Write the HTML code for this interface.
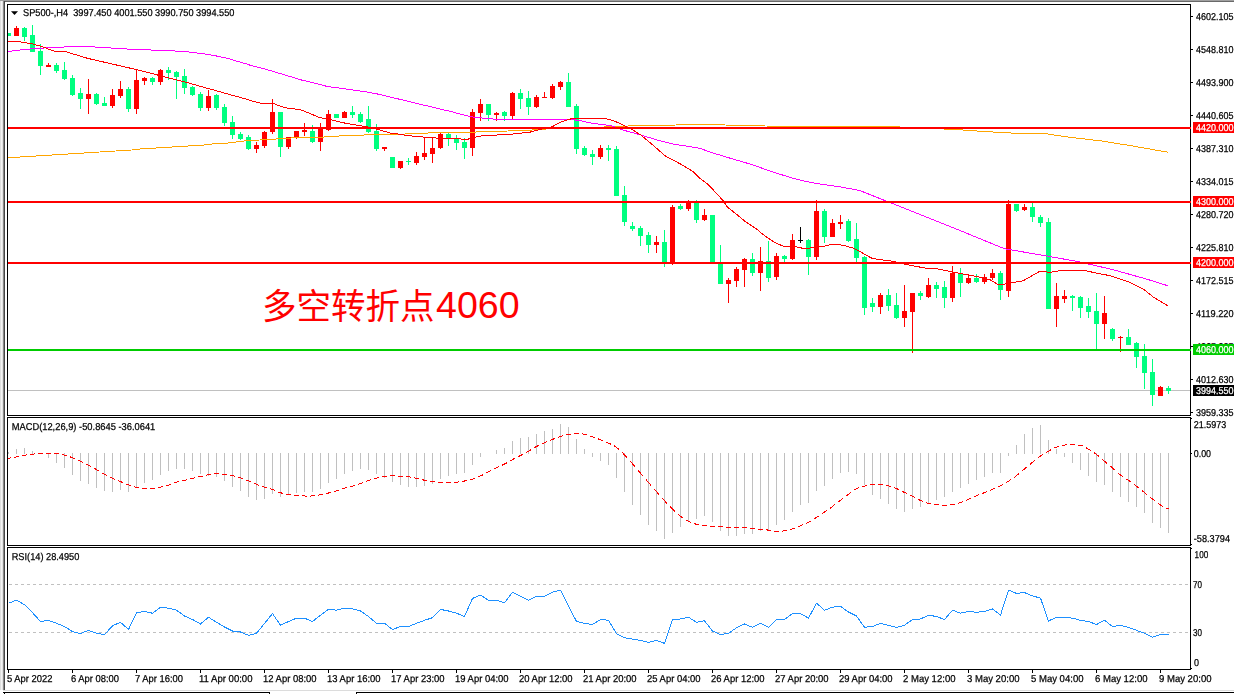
<!DOCTYPE html><html><head><meta charset="utf-8"><title>SP500 H4</title><style>
html,body{margin:0;padding:0;background:#fff;overflow:hidden}
svg{display:block}text{font-family:"Liberation Sans",sans-serif}
</style></head><body>
<svg width="1234" height="694" viewBox="0 0 1234 694">
<rect width="1234" height="694" fill="#fff"/>
<g shape-rendering="crispEdges">
<rect x="0" y="0" width="1234" height="1" fill="#a0a0a0"/>
<rect x="4" y="1" width="1230" height="1" fill="#696969"/>
<rect x="0" y="1" width="1" height="689" fill="#dedede"/>
<rect x="1" y="1" width="1" height="689" fill="#f4f4f4"/>
<rect x="2" y="1" width="1" height="689" fill="#e2e2e2"/>
<rect x="3" y="1" width="1" height="689" fill="#8a8a8a"/>
<rect x="4" y="1" width="1" height="689" fill="#484848"/>
<rect x="3" y="690" width="1231" height="1" fill="#dcdcdc"/>
<rect x="3" y="692" width="267" height="1" fill="#000"/>
<rect x="356" y="692" width="878" height="1" fill="#000"/>
<rect x="4" y="693" width="1" height="1" fill="#000"/><rect x="269" y="693" width="1" height="1" fill="#000"/><rect x="356" y="693" width="1" height="1" fill="#000"/>
</g>
<g shape-rendering="crispEdges">
<rect x="8" y="390" width="1182" height="1" fill="#c0c0c0"/>
<line x1="9" y1="584.5" x2="1190" y2="584.5" stroke="#c0c0c0" stroke-width="1" stroke-dasharray="3,3"/>
<line x1="9" y1="632.5" x2="1190" y2="632.5" stroke="#c0c0c0" stroke-width="1" stroke-dasharray="3,3"/>
<rect x="8" y="452" width="1" height="2" fill="#c0c0c0"/>
<rect x="16" y="449" width="1" height="5" fill="#c0c0c0"/>
<rect x="24" y="448" width="1" height="6" fill="#c0c0c0"/>
<rect x="32" y="451" width="1" height="3" fill="#c0c0c0"/>
<rect x="48" y="453" width="1" height="5" fill="#c0c0c0"/>
<rect x="56" y="453" width="1" height="10" fill="#c0c0c0"/>
<rect x="64" y="453" width="1" height="15" fill="#c0c0c0"/>
<rect x="72" y="453" width="1" height="22" fill="#c0c0c0"/>
<rect x="80" y="453" width="1" height="28" fill="#c0c0c0"/>
<rect x="88" y="453" width="1" height="31" fill="#c0c0c0"/>
<rect x="96" y="453" width="1" height="35" fill="#c0c0c0"/>
<rect x="104" y="453" width="1" height="38" fill="#c0c0c0"/>
<rect x="112" y="453" width="1" height="39" fill="#c0c0c0"/>
<rect x="120" y="453" width="1" height="37" fill="#c0c0c0"/>
<rect x="128" y="453" width="1" height="39" fill="#c0c0c0"/>
<rect x="136" y="453" width="1" height="34" fill="#c0c0c0"/>
<rect x="144" y="453" width="1" height="30" fill="#c0c0c0"/>
<rect x="152" y="453" width="1" height="27" fill="#c0c0c0"/>
<rect x="160" y="453" width="1" height="22" fill="#c0c0c0"/>
<rect x="168" y="453" width="1" height="18" fill="#c0c0c0"/>
<rect x="176" y="453" width="1" height="16" fill="#c0c0c0"/>
<rect x="184" y="453" width="1" height="16" fill="#c0c0c0"/>
<rect x="192" y="453" width="1" height="18" fill="#c0c0c0"/>
<rect x="200" y="453" width="1" height="21" fill="#c0c0c0"/>
<rect x="208" y="453" width="1" height="23" fill="#c0c0c0"/>
<rect x="216" y="453" width="1" height="24" fill="#c0c0c0"/>
<rect x="224" y="453" width="1" height="28" fill="#c0c0c0"/>
<rect x="232" y="453" width="1" height="34" fill="#c0c0c0"/>
<rect x="240" y="453" width="1" height="38" fill="#c0c0c0"/>
<rect x="248" y="453" width="1" height="44" fill="#c0c0c0"/>
<rect x="256" y="453" width="1" height="47" fill="#c0c0c0"/>
<rect x="264" y="453" width="1" height="46" fill="#c0c0c0"/>
<rect x="272" y="453" width="1" height="41" fill="#c0c0c0"/>
<rect x="280" y="453" width="1" height="44" fill="#c0c0c0"/>
<rect x="288" y="453" width="1" height="42" fill="#c0c0c0"/>
<rect x="296" y="453" width="1" height="40" fill="#c0c0c0"/>
<rect x="304" y="453" width="1" height="39" fill="#c0c0c0"/>
<rect x="312" y="453" width="1" height="39" fill="#c0c0c0"/>
<rect x="320" y="453" width="1" height="36" fill="#c0c0c0"/>
<rect x="328" y="453" width="1" height="30" fill="#c0c0c0"/>
<rect x="336" y="453" width="1" height="26" fill="#c0c0c0"/>
<rect x="344" y="453" width="1" height="21" fill="#c0c0c0"/>
<rect x="352" y="453" width="1" height="18" fill="#c0c0c0"/>
<rect x="360" y="453" width="1" height="16" fill="#c0c0c0"/>
<rect x="368" y="453" width="1" height="17" fill="#c0c0c0"/>
<rect x="376" y="453" width="1" height="21" fill="#c0c0c0"/>
<rect x="384" y="453" width="1" height="25" fill="#c0c0c0"/>
<rect x="392" y="453" width="1" height="29" fill="#c0c0c0"/>
<rect x="400" y="453" width="1" height="32" fill="#c0c0c0"/>
<rect x="408" y="453" width="1" height="34" fill="#c0c0c0"/>
<rect x="416" y="453" width="1" height="34" fill="#c0c0c0"/>
<rect x="424" y="453" width="1" height="33" fill="#c0c0c0"/>
<rect x="432" y="453" width="1" height="31" fill="#c0c0c0"/>
<rect x="440" y="453" width="1" height="26" fill="#c0c0c0"/>
<rect x="448" y="453" width="1" height="23" fill="#c0c0c0"/>
<rect x="456" y="453" width="1" height="21" fill="#c0c0c0"/>
<rect x="464" y="453" width="1" height="20" fill="#c0c0c0"/>
<rect x="472" y="453" width="1" height="12" fill="#c0c0c0"/>
<rect x="480" y="453" width="1" height="4" fill="#c0c0c0"/>
<rect x="496" y="450" width="1" height="4" fill="#c0c0c0"/>
<rect x="504" y="448" width="1" height="6" fill="#c0c0c0"/>
<rect x="512" y="441" width="1" height="13" fill="#c0c0c0"/>
<rect x="520" y="438" width="1" height="16" fill="#c0c0c0"/>
<rect x="528" y="437" width="1" height="17" fill="#c0c0c0"/>
<rect x="536" y="434" width="1" height="20" fill="#c0c0c0"/>
<rect x="544" y="431" width="1" height="23" fill="#c0c0c0"/>
<rect x="552" y="429" width="1" height="25" fill="#c0c0c0"/>
<rect x="560" y="424" width="1" height="30" fill="#c0c0c0"/>
<rect x="568" y="427" width="1" height="27" fill="#c0c0c0"/>
<rect x="576" y="439" width="1" height="15" fill="#c0c0c0"/>
<rect x="584" y="449" width="1" height="5" fill="#c0c0c0"/>
<rect x="592" y="453" width="1" height="4" fill="#c0c0c0"/>
<rect x="600" y="453" width="1" height="8" fill="#c0c0c0"/>
<rect x="608" y="453" width="1" height="12" fill="#c0c0c0"/>
<rect x="616" y="453" width="1" height="25" fill="#c0c0c0"/>
<rect x="624" y="453" width="1" height="39" fill="#c0c0c0"/>
<rect x="632" y="453" width="1" height="52" fill="#c0c0c0"/>
<rect x="640" y="453" width="1" height="62" fill="#c0c0c0"/>
<rect x="648" y="453" width="1" height="72" fill="#c0c0c0"/>
<rect x="656" y="453" width="1" height="78" fill="#c0c0c0"/>
<rect x="664" y="453" width="1" height="86" fill="#c0c0c0"/>
<rect x="672" y="453" width="1" height="80" fill="#c0c0c0"/>
<rect x="680" y="453" width="1" height="74" fill="#c0c0c0"/>
<rect x="688" y="453" width="1" height="69" fill="#c0c0c0"/>
<rect x="696" y="453" width="1" height="66" fill="#c0c0c0"/>
<rect x="704" y="453" width="1" height="63" fill="#c0c0c0"/>
<rect x="712" y="453" width="1" height="69" fill="#c0c0c0"/>
<rect x="720" y="453" width="1" height="78" fill="#c0c0c0"/>
<rect x="728" y="453" width="1" height="83" fill="#c0c0c0"/>
<rect x="736" y="453" width="1" height="83" fill="#c0c0c0"/>
<rect x="744" y="453" width="1" height="81" fill="#c0c0c0"/>
<rect x="752" y="453" width="1" height="81" fill="#c0c0c0"/>
<rect x="760" y="453" width="1" height="78" fill="#c0c0c0"/>
<rect x="768" y="453" width="1" height="78" fill="#c0c0c0"/>
<rect x="776" y="453" width="1" height="72" fill="#c0c0c0"/>
<rect x="784" y="453" width="1" height="67" fill="#c0c0c0"/>
<rect x="792" y="453" width="1" height="59" fill="#c0c0c0"/>
<rect x="800" y="453" width="1" height="52" fill="#c0c0c0"/>
<rect x="808" y="453" width="1" height="50" fill="#c0c0c0"/>
<rect x="816" y="453" width="1" height="38" fill="#c0c0c0"/>
<rect x="824" y="453" width="1" height="33" fill="#c0c0c0"/>
<rect x="832" y="453" width="1" height="26" fill="#c0c0c0"/>
<rect x="840" y="453" width="1" height="20" fill="#c0c0c0"/>
<rect x="848" y="453" width="1" height="19" fill="#c0c0c0"/>
<rect x="856" y="453" width="1" height="21" fill="#c0c0c0"/>
<rect x="864" y="453" width="1" height="32" fill="#c0c0c0"/>
<rect x="872" y="453" width="1" height="42" fill="#c0c0c0"/>
<rect x="880" y="453" width="1" height="46" fill="#c0c0c0"/>
<rect x="888" y="453" width="1" height="51" fill="#c0c0c0"/>
<rect x="896" y="453" width="1" height="56" fill="#c0c0c0"/>
<rect x="904" y="453" width="1" height="59" fill="#c0c0c0"/>
<rect x="912" y="453" width="1" height="56" fill="#c0c0c0"/>
<rect x="920" y="453" width="1" height="54" fill="#c0c0c0"/>
<rect x="928" y="453" width="1" height="50" fill="#c0c0c0"/>
<rect x="936" y="453" width="1" height="47" fill="#c0c0c0"/>
<rect x="944" y="453" width="1" height="44" fill="#c0c0c0"/>
<rect x="952" y="453" width="1" height="39" fill="#c0c0c0"/>
<rect x="960" y="453" width="1" height="35" fill="#c0c0c0"/>
<rect x="968" y="453" width="1" height="31" fill="#c0c0c0"/>
<rect x="976" y="453" width="1" height="27" fill="#c0c0c0"/>
<rect x="984" y="453" width="1" height="24" fill="#c0c0c0"/>
<rect x="992" y="453" width="1" height="20" fill="#c0c0c0"/>
<rect x="1000" y="453" width="1" height="20" fill="#c0c0c0"/>
<rect x="1008" y="453" width="1" height="3" fill="#c0c0c0"/>
<rect x="1016" y="445" width="1" height="9" fill="#c0c0c0"/>
<rect x="1024" y="434" width="1" height="20" fill="#c0c0c0"/>
<rect x="1032" y="428" width="1" height="26" fill="#c0c0c0"/>
<rect x="1040" y="425" width="1" height="29" fill="#c0c0c0"/>
<rect x="1048" y="440" width="1" height="14" fill="#c0c0c0"/>
<rect x="1056" y="449" width="1" height="5" fill="#c0c0c0"/>
<rect x="1064" y="453" width="1" height="4" fill="#c0c0c0"/>
<rect x="1072" y="453" width="1" height="10" fill="#c0c0c0"/>
<rect x="1080" y="453" width="1" height="17" fill="#c0c0c0"/>
<rect x="1088" y="453" width="1" height="23" fill="#c0c0c0"/>
<rect x="1096" y="453" width="1" height="29" fill="#c0c0c0"/>
<rect x="1104" y="453" width="1" height="32" fill="#c0c0c0"/>
<rect x="1112" y="453" width="1" height="39" fill="#c0c0c0"/>
<rect x="1120" y="453" width="1" height="44" fill="#c0c0c0"/>
<rect x="1128" y="453" width="1" height="49" fill="#c0c0c0"/>
<rect x="1136" y="453" width="1" height="54" fill="#c0c0c0"/>
<rect x="1144" y="453" width="1" height="60" fill="#c0c0c0"/>
<rect x="1152" y="453" width="1" height="70" fill="#c0c0c0"/>
<rect x="1160" y="453" width="1" height="75" fill="#c0c0c0"/>
<rect x="1168" y="453" width="1" height="80" fill="#c0c0c0"/>
</g>
<g stroke="#ff0000" stroke-width="1" shape-rendering="crispEdges">
<line x1="8" y1="458.4" x2="11" y2="457.9"/>
<line x1="14" y1="457.5" x2="19" y2="456.4"/>
<line x1="22" y1="455.7" x2="27" y2="454.9"/>
<line x1="30" y1="454.5" x2="35" y2="453.9"/>
<line x1="38" y1="453.6" x2="43" y2="453.4"/>
<line x1="46" y1="453.4" x2="51" y2="453.4"/>
<line x1="54" y1="453.4" x2="59" y2="453.7"/>
<line x1="62" y1="454.4" x2="67" y2="455.8"/>
<line x1="70" y1="456.8" x2="75" y2="458.6"/>
<line x1="78" y1="459.9" x2="83" y2="462.4"/>
<line x1="86" y1="464.1" x2="91" y2="466.7"/>
<line x1="94" y1="468.2" x2="99" y2="471.1"/>
<line x1="102" y1="472.8" x2="107" y2="475.6"/>
<line x1="110" y1="477.2" x2="115" y2="479.5"/>
<line x1="118" y1="480.6" x2="123" y2="482.6"/>
<line x1="126" y1="483.9" x2="131" y2="485.8"/>
<line x1="134" y1="486.8" x2="139" y2="488.0"/>
<line x1="142" y1="488.3" x2="147" y2="488.5"/>
<line x1="150" y1="488.4" x2="155" y2="488.0"/>
<line x1="158" y1="487.6" x2="163" y2="486.7"/>
<line x1="166" y1="485.9" x2="171" y2="484.2"/>
<line x1="174" y1="482.9" x2="179" y2="481.5"/>
<line x1="182" y1="480.9" x2="187" y2="479.7"/>
<line x1="190" y1="478.9" x2="195" y2="477.7"/>
<line x1="198" y1="477.1" x2="203" y2="476.0"/>
<line x1="206" y1="475.2" x2="211" y2="474.2"/>
<line x1="214" y1="473.8" x2="219" y2="473.9"/>
<line x1="222" y1="474.3" x2="227" y2="474.8"/>
<line x1="230" y1="475.1" x2="235" y2="476.2"/>
<line x1="238" y1="477.1" x2="243" y2="478.8"/>
<line x1="246" y1="479.9" x2="251" y2="481.8"/>
<line x1="254" y1="483.1" x2="259" y2="485.3"/>
<line x1="262" y1="486.5" x2="267" y2="488.0"/>
<line x1="270" y1="488.6" x2="275" y2="490.3"/>
<line x1="278" y1="491.9" x2="283" y2="493.5"/>
<line x1="286" y1="494.0" x2="291" y2="494.8"/>
<line x1="294" y1="495.1" x2="299" y2="495.6"/>
<line x1="302" y1="495.8" x2="307" y2="496.1"/>
<line x1="310" y1="496.1" x2="315" y2="495.7"/>
<line x1="318" y1="495.2" x2="323" y2="494.2"/>
<line x1="326" y1="493.6" x2="331" y2="492.4"/>
<line x1="334" y1="491.7" x2="339" y2="490.1"/>
<line x1="342" y1="489.0" x2="347" y2="487.4"/>
<line x1="350" y1="486.7" x2="355" y2="485.4"/>
<line x1="358" y1="484.4" x2="363" y2="482.6"/>
<line x1="366" y1="481.5" x2="371" y2="479.7"/>
<line x1="374" y1="478.8" x2="379" y2="477.6"/>
<line x1="382" y1="476.9" x2="387" y2="476.1"/>
<line x1="390" y1="475.6" x2="395" y2="475.8"/>
<line x1="398" y1="476.2" x2="403" y2="476.5"/>
<line x1="406" y1="476.5" x2="411" y2="477.1"/>
<line x1="414" y1="477.7" x2="419" y2="478.9"/>
<line x1="422" y1="479.7" x2="427" y2="480.7"/>
<line x1="430" y1="481.3" x2="435" y2="481.8"/>
<line x1="438" y1="482.1" x2="443" y2="482.6"/>
<line x1="446" y1="483.0" x2="451" y2="482.9"/>
<line x1="454" y1="482.5" x2="459" y2="481.9"/>
<line x1="462" y1="481.5" x2="467" y2="480.5"/>
<line x1="470" y1="479.8" x2="475" y2="478.3"/>
<line x1="478" y1="477.1" x2="483" y2="474.8"/>
<line x1="486" y1="473.2" x2="491" y2="470.6"/>
<line x1="494" y1="468.9" x2="499" y2="466.4"/>
<line x1="502" y1="465.2" x2="507" y2="462.7"/>
<line x1="510" y1="461.0" x2="515" y2="458.2"/>
<line x1="518" y1="456.7" x2="523" y2="454.2"/>
<line x1="526" y1="452.7" x2="531" y2="449.8"/>
<line x1="534" y1="447.8" x2="539" y2="445.2"/>
<line x1="542" y1="443.9" x2="547" y2="441.7"/>
<line x1="550" y1="440.4" x2="555" y2="438.4"/>
<line x1="558" y1="437.4" x2="563" y2="435.8"/>
<line x1="566" y1="435.0" x2="571" y2="434.0"/>
<line x1="574" y1="433.6" x2="579" y2="433.6"/>
<line x1="582" y1="433.9" x2="587" y2="434.9"/>
<line x1="590" y1="435.9" x2="595" y2="437.7"/>
<line x1="598" y1="438.8" x2="603" y2="440.8"/>
<line x1="606" y1="442.1" x2="611" y2="444.2"/>
<line x1="614" y1="445.5" x2="619" y2="449.5"/>
<line x1="622" y1="452.2" x2="627" y2="457.5"/>
<line x1="630" y1="460.9" x2="635" y2="466.7"/>
<line x1="638" y1="470.2" x2="643" y2="476.1"/>
<line x1="646" y1="479.6" x2="651" y2="485.3"/>
<line x1="654" y1="488.8" x2="659" y2="494.5"/>
<line x1="662" y1="498.1" x2="667" y2="503.4"/>
<line x1="670" y1="506.3" x2="675" y2="511.3"/>
<line x1="678" y1="514.3" x2="683" y2="518.2"/>
<line x1="686" y1="519.9" x2="691" y2="522.3"/>
<line x1="694" y1="523.6" x2="699" y2="524.9"/>
<line x1="702" y1="525.3" x2="707" y2="525.9"/>
<line x1="710" y1="526.1" x2="715" y2="526.5"/>
<line x1="718" y1="526.7" x2="723" y2="527.0"/>
<line x1="726" y1="527.3" x2="731" y2="527.5"/>
<line x1="734" y1="527.5" x2="739" y2="527.5"/>
<line x1="742" y1="527.5" x2="747" y2="527.8"/>
<line x1="750" y1="528.2" x2="755" y2="528.8"/>
<line x1="758" y1="529.0" x2="763" y2="529.5"/>
<line x1="766" y1="529.8" x2="771" y2="530.5"/>
<line x1="774" y1="531.0" x2="779" y2="531.2"/>
<line x1="782" y1="531.1" x2="787" y2="530.5"/>
<line x1="790" y1="529.8" x2="795" y2="528.1"/>
<line x1="798" y1="526.8" x2="803" y2="524.6"/>
<line x1="806" y1="523.4" x2="811" y2="520.9"/>
<line x1="814" y1="519.1" x2="819" y2="515.8"/>
<line x1="822" y1="513.7" x2="827" y2="510.3"/>
<line x1="830" y1="508.3" x2="835" y2="504.5"/>
<line x1="838" y1="502.1" x2="843" y2="498.2"/>
<line x1="846" y1="496.1" x2="851" y2="492.3"/>
<line x1="854" y1="490.1" x2="859" y2="487.5"/>
<line x1="862" y1="486.6" x2="867" y2="485.6"/>
<line x1="870" y1="485.0" x2="875" y2="484.6"/>
<line x1="878" y1="484.6" x2="883" y2="485.0"/>
<line x1="886" y1="485.4" x2="891" y2="486.5"/>
<line x1="894" y1="487.5" x2="899" y2="489.7"/>
<line x1="902" y1="491.3" x2="907" y2="493.5"/>
<line x1="910" y1="494.8" x2="915" y2="497.5"/>
<line x1="918" y1="499.3" x2="923" y2="501.6"/>
<line x1="926" y1="502.8" x2="931" y2="503.9"/>
<line x1="934" y1="504.3" x2="939" y2="504.9"/>
<line x1="942" y1="505.1" x2="947" y2="505.2"/>
<line x1="950" y1="505.0" x2="955" y2="504.1"/>
<line x1="958" y1="503.2" x2="963" y2="501.6"/>
<line x1="966" y1="500.4" x2="971" y2="498.1"/>
<line x1="974" y1="496.7" x2="979" y2="494.6"/>
<line x1="982" y1="493.6" x2="987" y2="491.7"/>
<line x1="990" y1="490.4" x2="995" y2="488.2"/>
<line x1="998" y1="486.9" x2="1003" y2="484.4"/>
<line x1="1006" y1="482.7" x2="1011" y2="479.6"/>
<line x1="1014" y1="477.6" x2="1019" y2="473.6"/>
<line x1="1022" y1="471.0" x2="1027" y2="466.8"/>
<line x1="1030" y1="464.4" x2="1035" y2="460.1"/>
<line x1="1038" y1="457.6" x2="1043" y2="454.4"/>
<line x1="1046" y1="452.7" x2="1051" y2="449.8"/>
<line x1="1054" y1="448.1" x2="1059" y2="446.2"/>
<line x1="1062" y1="445.4" x2="1067" y2="444.8"/>
<line x1="1070" y1="444.6" x2="1075" y2="444.6"/>
<line x1="1078" y1="444.9" x2="1083" y2="446.1"/>
<line x1="1086" y1="447.7" x2="1091" y2="450.6"/>
<line x1="1094" y1="452.6" x2="1099" y2="456.5"/>
<line x1="1102" y1="459.1" x2="1107" y2="463.3"/>
<line x1="1110" y1="465.8" x2="1115" y2="470.2"/>
<line x1="1118" y1="473.0" x2="1123" y2="477.0"/>
<line x1="1126" y1="478.8" x2="1131" y2="482.0"/>
<line x1="1134" y1="484.2" x2="1139" y2="488.1"/>
<line x1="1142" y1="490.5" x2="1147" y2="494.6"/>
<line x1="1150" y1="497.0" x2="1155" y2="501.0"/>
<line x1="1158" y1="503.4" x2="1163" y2="506.6"/>
<line x1="1166" y1="507.9" x2="1169" y2="508.7"/>
</g>
<polyline points="8.5,603.2 16.5,600.2 24.5,604.7 32.5,612.7 40.5,621.5 48.5,620.3 56.5,623.3 64.5,626.5 72.5,631.6 80.5,633.6 88.5,630.3 96.5,633.3 104.5,634.6 112.5,625.8 120.5,622.3 128.5,629.5 136.5,612.7 144.5,611.5 152.5,613.2 160.5,607.2 168.5,608.2 176.5,610.2 184.5,616.0 192.5,619.5 200.5,624.0 208.5,617.2 216.5,622.3 224.5,627.0 232.5,631.0 240.5,632.0 248.5,635.3 256.5,633.3 264.5,623.5 272.5,613.5 280.5,625.3 288.5,621.5 296.5,618.2 304.5,618.2 312.5,621.5 320.5,615.2 328.5,609.4 336.5,610.2 344.5,608.2 352.5,608.9 360.5,611.0 368.5,616.5 376.5,623.3 384.5,623.3 392.5,629.5 400.5,626.5 408.5,626.5 416.5,623.3 424.5,620.3 432.5,617.7 440.5,609.4 448.5,611.0 456.5,613.2 464.5,616.5 472.5,598.4 480.5,595.1 488.5,600.2 496.5,600.2 504.5,602.7 512.5,592.1 520.5,596.4 528.5,600.2 536.5,596.4 544.5,596.4 552.5,592.1 560.5,590.1 568.5,605.9 576.5,621.5 584.5,623.3 592.5,624.5 600.5,619.5 608.5,620.3 616.5,633.6 624.5,637.8 632.5,639.1 640.5,640.4 648.5,642.4 656.5,640.4 664.5,643.4 672.5,619.5 680.5,619.0 688.5,617.2 696.5,622.3 704.5,620.8 712.5,631.0 720.5,634.6 728.5,633.3 736.5,627.8 744.5,624.0 752.5,627.3 760.5,623.3 768.5,627.3 776.5,619.5 784.5,619.5 792.5,613.5 800.5,613.5 808.5,618.2 816.5,603.2 824.5,610.2 832.5,607.2 840.5,606.4 848.5,612.0 856.5,616.0 864.5,627.3 872.5,626.5 880.5,623.3 888.5,625.3 896.5,627.3 904.5,625.3 912.5,619.5 920.5,619.0 928.5,615.2 936.5,616.5 944.5,619.5 952.5,610.2 960.5,613.2 968.5,611.5 976.5,612.2 984.5,611.5 992.5,608.9 1000.5,615.2 1008.5,590.1 1016.5,593.4 1024.5,592.6 1032.5,595.9 1040.5,598.1 1048.5,621.0 1056.5,617.2 1064.5,617.2 1072.5,618.2 1080.5,620.3 1088.5,621.5 1096.5,624.5 1104.5,620.3 1112.5,626.5 1120.5,625.3 1128.5,627.3 1136.5,630.3 1144.5,633.3 1152.5,637.3 1160.5,634.6 1168.5,634.6" fill="none" stroke="#1e90ff" stroke-width="1" shape-rendering="crispEdges"/>
<g shape-rendering="crispEdges">
<rect x="8" y="33" width="3" height="3" fill="#00ff7f"/>
<rect x="16" y="26" width="1" height="10" fill="#ff0000"/>
<rect x="14" y="28" width="5" height="8" fill="#ff0000"/>
<rect x="24" y="27" width="1" height="14" fill="#00ff7f"/>
<rect x="22" y="28" width="5" height="9" fill="#00ff7f"/>
<rect x="32" y="25" width="1" height="27" fill="#00ff7f"/>
<rect x="30" y="35" width="5" height="17" fill="#00ff7f"/>
<rect x="40" y="44" width="1" height="31" fill="#00ff7f"/>
<rect x="38" y="51" width="5" height="15" fill="#00ff7f"/>
<rect x="48" y="63" width="1" height="4" fill="#ff0000"/>
<rect x="46" y="65" width="5" height="2" fill="#ff0000"/>
<rect x="56" y="63" width="1" height="10" fill="#00ff7f"/>
<rect x="54" y="65" width="5" height="6" fill="#00ff7f"/>
<rect x="64" y="62" width="1" height="18" fill="#00ff7f"/>
<rect x="62" y="70" width="5" height="9" fill="#00ff7f"/>
<rect x="72" y="75" width="1" height="21" fill="#00ff7f"/>
<rect x="70" y="78" width="5" height="17" fill="#00ff7f"/>
<rect x="80" y="88" width="1" height="21" fill="#00ff7f"/>
<rect x="78" y="93" width="5" height="6" fill="#00ff7f"/>
<rect x="88" y="79" width="1" height="35" fill="#ff0000"/>
<rect x="86" y="94" width="5" height="5" fill="#ff0000"/>
<rect x="96" y="93" width="1" height="12" fill="#00ff7f"/>
<rect x="94" y="94" width="5" height="10" fill="#00ff7f"/>
<rect x="104" y="97" width="1" height="9" fill="#00ff7f"/>
<rect x="102" y="103" width="5" height="3" fill="#00ff7f"/>
<rect x="112" y="89" width="1" height="19" fill="#ff0000"/>
<rect x="110" y="95" width="5" height="11" fill="#ff0000"/>
<rect x="120" y="81" width="1" height="17" fill="#ff0000"/>
<rect x="118" y="89" width="5" height="7" fill="#ff0000"/>
<rect x="128" y="87" width="1" height="25" fill="#00ff7f"/>
<rect x="126" y="89" width="5" height="20" fill="#00ff7f"/>
<rect x="136" y="70" width="1" height="44" fill="#ff0000"/>
<rect x="134" y="80" width="5" height="29" fill="#ff0000"/>
<rect x="144" y="77" width="1" height="8" fill="#ff0000"/>
<rect x="142" y="78" width="5" height="3" fill="#ff0000"/>
<rect x="152" y="77" width="1" height="8" fill="#00ff7f"/>
<rect x="150" y="78" width="5" height="4" fill="#00ff7f"/>
<rect x="160" y="69" width="1" height="16" fill="#ff0000"/>
<rect x="158" y="70" width="5" height="12" fill="#ff0000"/>
<rect x="168" y="67" width="1" height="13" fill="#00ff7f"/>
<rect x="166" y="70" width="5" height="3" fill="#00ff7f"/>
<rect x="176" y="71" width="1" height="28" fill="#00ff7f"/>
<rect x="174" y="72" width="5" height="5" fill="#00ff7f"/>
<rect x="184" y="69" width="1" height="25" fill="#00ff7f"/>
<rect x="182" y="76" width="5" height="12" fill="#00ff7f"/>
<rect x="192" y="86" width="1" height="10" fill="#00ff7f"/>
<rect x="190" y="87" width="5" height="8" fill="#00ff7f"/>
<rect x="200" y="92" width="1" height="19" fill="#00ff7f"/>
<rect x="198" y="94" width="5" height="14" fill="#00ff7f"/>
<rect x="208" y="90" width="1" height="21" fill="#ff0000"/>
<rect x="206" y="96" width="5" height="12" fill="#ff0000"/>
<rect x="216" y="94" width="1" height="16" fill="#00ff7f"/>
<rect x="214" y="95" width="5" height="13" fill="#00ff7f"/>
<rect x="224" y="104" width="1" height="22" fill="#00ff7f"/>
<rect x="222" y="107" width="5" height="16" fill="#00ff7f"/>
<rect x="232" y="116" width="1" height="23" fill="#00ff7f"/>
<rect x="230" y="122" width="5" height="13" fill="#00ff7f"/>
<rect x="240" y="132" width="1" height="8" fill="#00ff7f"/>
<rect x="238" y="134" width="5" height="5" fill="#00ff7f"/>
<rect x="248" y="135" width="1" height="15" fill="#00ff7f"/>
<rect x="246" y="137" width="5" height="12" fill="#00ff7f"/>
<rect x="256" y="142" width="1" height="11" fill="#ff0000"/>
<rect x="254" y="145" width="5" height="4" fill="#ff0000"/>
<rect x="264" y="131" width="1" height="17" fill="#ff0000"/>
<rect x="262" y="132" width="5" height="14" fill="#ff0000"/>
<rect x="272" y="99" width="1" height="35" fill="#ff0000"/>
<rect x="270" y="112" width="5" height="20" fill="#ff0000"/>
<rect x="280" y="112" width="1" height="45" fill="#00ff7f"/>
<rect x="278" y="112" width="5" height="35" fill="#00ff7f"/>
<rect x="288" y="137" width="1" height="12" fill="#ff0000"/>
<rect x="286" y="137" width="5" height="10" fill="#ff0000"/>
<rect x="296" y="131" width="1" height="8" fill="#ff0000"/>
<rect x="294" y="131" width="5" height="7" fill="#ff0000"/>
<rect x="304" y="123" width="1" height="13" fill="#ff0000"/>
<rect x="302" y="130" width="5" height="2" fill="#ff0000"/>
<rect x="312" y="125" width="1" height="18" fill="#00ff7f"/>
<rect x="310" y="131" width="5" height="11" fill="#00ff7f"/>
<rect x="320" y="123" width="1" height="28" fill="#ff0000"/>
<rect x="318" y="128" width="5" height="14" fill="#ff0000"/>
<rect x="328" y="110" width="1" height="21" fill="#ff0000"/>
<rect x="326" y="114" width="5" height="16" fill="#ff0000"/>
<rect x="336" y="114" width="1" height="4" fill="#00ff7f"/>
<rect x="334" y="114" width="5" height="4" fill="#00ff7f"/>
<rect x="344" y="111" width="1" height="7" fill="#ff0000"/>
<rect x="342" y="112" width="5" height="6" fill="#ff0000"/>
<rect x="352" y="106" width="1" height="12" fill="#00ff7f"/>
<rect x="350" y="112" width="5" height="3" fill="#00ff7f"/>
<rect x="360" y="112" width="1" height="11" fill="#00ff7f"/>
<rect x="358" y="114" width="5" height="8" fill="#00ff7f"/>
<rect x="368" y="106" width="1" height="27" fill="#00ff7f"/>
<rect x="366" y="119" width="5" height="13" fill="#00ff7f"/>
<rect x="376" y="124" width="1" height="27" fill="#00ff7f"/>
<rect x="374" y="131" width="5" height="18" fill="#00ff7f"/>
<rect x="384" y="147" width="1" height="4" fill="#ff0000"/>
<rect x="382" y="147" width="5" height="2" fill="#ff0000"/>
<rect x="392" y="157" width="1" height="11" fill="#00ff7f"/>
<rect x="390" y="157" width="5" height="11" fill="#00ff7f"/>
<rect x="400" y="161" width="1" height="8" fill="#ff0000"/>
<rect x="398" y="161" width="5" height="7" fill="#ff0000"/>
<rect x="408" y="158" width="1" height="7" fill="#00ff7f"/>
<rect x="406" y="161" width="5" height="1" fill="#00ff7f"/>
<rect x="416" y="152" width="1" height="13" fill="#ff0000"/>
<rect x="414" y="156" width="5" height="7" fill="#ff0000"/>
<rect x="424" y="138" width="1" height="22" fill="#ff0000"/>
<rect x="422" y="153" width="5" height="4" fill="#ff0000"/>
<rect x="432" y="137" width="1" height="26" fill="#ff0000"/>
<rect x="430" y="148" width="5" height="6" fill="#ff0000"/>
<rect x="440" y="133" width="1" height="16" fill="#ff0000"/>
<rect x="438" y="134" width="5" height="14" fill="#ff0000"/>
<rect x="448" y="133" width="1" height="13" fill="#00ff7f"/>
<rect x="446" y="134" width="5" height="4" fill="#00ff7f"/>
<rect x="456" y="135" width="1" height="15" fill="#00ff7f"/>
<rect x="454" y="139" width="5" height="4" fill="#00ff7f"/>
<rect x="464" y="138" width="1" height="21" fill="#00ff7f"/>
<rect x="462" y="142" width="5" height="6" fill="#00ff7f"/>
<rect x="472" y="109" width="1" height="47" fill="#ff0000"/>
<rect x="470" y="112" width="5" height="36" fill="#ff0000"/>
<rect x="480" y="99" width="1" height="22" fill="#ff0000"/>
<rect x="478" y="104" width="5" height="9" fill="#ff0000"/>
<rect x="488" y="104" width="1" height="17" fill="#00ff7f"/>
<rect x="486" y="104" width="5" height="11" fill="#00ff7f"/>
<rect x="496" y="112" width="1" height="9" fill="#ff0000"/>
<rect x="494" y="113" width="5" height="2" fill="#ff0000"/>
<rect x="504" y="111" width="1" height="10" fill="#00ff7f"/>
<rect x="502" y="112" width="5" height="4" fill="#00ff7f"/>
<rect x="512" y="92" width="1" height="28" fill="#ff0000"/>
<rect x="510" y="93" width="5" height="23" fill="#ff0000"/>
<rect x="520" y="89" width="1" height="20" fill="#00ff7f"/>
<rect x="518" y="93" width="5" height="6" fill="#00ff7f"/>
<rect x="528" y="91" width="1" height="24" fill="#00ff7f"/>
<rect x="526" y="98" width="5" height="9" fill="#00ff7f"/>
<rect x="536" y="95" width="1" height="13" fill="#ff0000"/>
<rect x="534" y="97" width="5" height="10" fill="#ff0000"/>
<rect x="544" y="92" width="1" height="6" fill="#ff0000"/>
<rect x="542" y="97" width="5" height="1" fill="#ff0000"/>
<rect x="552" y="84" width="1" height="15" fill="#ff0000"/>
<rect x="550" y="86" width="5" height="12" fill="#ff0000"/>
<rect x="560" y="81" width="1" height="9" fill="#ff0000"/>
<rect x="558" y="82" width="5" height="5" fill="#ff0000"/>
<rect x="568" y="73" width="1" height="34" fill="#00ff7f"/>
<rect x="566" y="82" width="5" height="25" fill="#00ff7f"/>
<rect x="576" y="104" width="1" height="50" fill="#00ff7f"/>
<rect x="574" y="106" width="5" height="43" fill="#00ff7f"/>
<rect x="584" y="146" width="1" height="10" fill="#00ff7f"/>
<rect x="582" y="148" width="5" height="7" fill="#00ff7f"/>
<rect x="592" y="150" width="1" height="15" fill="#00ff7f"/>
<rect x="590" y="154" width="5" height="3" fill="#00ff7f"/>
<rect x="600" y="145" width="1" height="14" fill="#ff0000"/>
<rect x="598" y="148" width="5" height="9" fill="#ff0000"/>
<rect x="608" y="145" width="1" height="16" fill="#00ff7f"/>
<rect x="606" y="148" width="5" height="2" fill="#00ff7f"/>
<rect x="616" y="146" width="1" height="50" fill="#00ff7f"/>
<rect x="614" y="149" width="5" height="47" fill="#00ff7f"/>
<rect x="624" y="186" width="1" height="40" fill="#00ff7f"/>
<rect x="622" y="195" width="5" height="27" fill="#00ff7f"/>
<rect x="632" y="222" width="1" height="9" fill="#00ff7f"/>
<rect x="630" y="226" width="5" height="3" fill="#00ff7f"/>
<rect x="640" y="226" width="1" height="20" fill="#00ff7f"/>
<rect x="638" y="228" width="5" height="8" fill="#00ff7f"/>
<rect x="648" y="232" width="1" height="21" fill="#00ff7f"/>
<rect x="646" y="235" width="5" height="10" fill="#00ff7f"/>
<rect x="656" y="236" width="1" height="17" fill="#ff0000"/>
<rect x="654" y="242" width="5" height="3" fill="#ff0000"/>
<rect x="664" y="230" width="1" height="37" fill="#00ff7f"/>
<rect x="662" y="242" width="5" height="21" fill="#00ff7f"/>
<rect x="672" y="205" width="1" height="60" fill="#ff0000"/>
<rect x="670" y="207" width="5" height="57" fill="#ff0000"/>
<rect x="680" y="204" width="1" height="6" fill="#00ff7f"/>
<rect x="678" y="206" width="5" height="3" fill="#00ff7f"/>
<rect x="688" y="200" width="1" height="11" fill="#ff0000"/>
<rect x="686" y="202" width="5" height="7" fill="#ff0000"/>
<rect x="696" y="200" width="1" height="23" fill="#00ff7f"/>
<rect x="694" y="203" width="5" height="17" fill="#00ff7f"/>
<rect x="704" y="209" width="1" height="12" fill="#ff0000"/>
<rect x="702" y="215" width="5" height="5" fill="#ff0000"/>
<rect x="712" y="215" width="1" height="48" fill="#00ff7f"/>
<rect x="710" y="215" width="5" height="48" fill="#00ff7f"/>
<rect x="720" y="245" width="1" height="39" fill="#00ff7f"/>
<rect x="718" y="262" width="5" height="22" fill="#00ff7f"/>
<rect x="728" y="278" width="1" height="25" fill="#ff0000"/>
<rect x="726" y="280" width="5" height="4" fill="#ff0000"/>
<rect x="736" y="267" width="1" height="20" fill="#ff0000"/>
<rect x="734" y="269" width="5" height="12" fill="#ff0000"/>
<rect x="744" y="258" width="1" height="29" fill="#ff0000"/>
<rect x="742" y="259" width="5" height="11" fill="#ff0000"/>
<rect x="752" y="253" width="1" height="23" fill="#00ff7f"/>
<rect x="750" y="259" width="5" height="14" fill="#00ff7f"/>
<rect x="760" y="247" width="1" height="44" fill="#ff0000"/>
<rect x="758" y="261" width="5" height="12" fill="#ff0000"/>
<rect x="768" y="241" width="1" height="41" fill="#00ff7f"/>
<rect x="766" y="261" width="5" height="17" fill="#00ff7f"/>
<rect x="776" y="253" width="1" height="27" fill="#ff0000"/>
<rect x="774" y="256" width="5" height="21" fill="#ff0000"/>
<rect x="784" y="255" width="1" height="7" fill="#00ff7f"/>
<rect x="782" y="256" width="5" height="3" fill="#00ff7f"/>
<rect x="792" y="234" width="1" height="26" fill="#ff0000"/>
<rect x="790" y="240" width="5" height="19" fill="#ff0000"/>
<rect x="800" y="227" width="1" height="16" fill="#000"/>
<rect x="798" y="240" width="5" height="1" fill="#000"/>
<rect x="808" y="239" width="1" height="36" fill="#00ff7f"/>
<rect x="806" y="240" width="5" height="17" fill="#00ff7f"/>
<rect x="816" y="200" width="1" height="60" fill="#ff0000"/>
<rect x="814" y="211" width="5" height="46" fill="#ff0000"/>
<rect x="824" y="209" width="1" height="34" fill="#00ff7f"/>
<rect x="822" y="211" width="5" height="26" fill="#00ff7f"/>
<rect x="832" y="219" width="1" height="18" fill="#ff0000"/>
<rect x="830" y="223" width="5" height="14" fill="#ff0000"/>
<rect x="840" y="215" width="1" height="14" fill="#ff0000"/>
<rect x="838" y="222" width="5" height="2" fill="#ff0000"/>
<rect x="848" y="219" width="1" height="23" fill="#00ff7f"/>
<rect x="846" y="221" width="5" height="20" fill="#00ff7f"/>
<rect x="856" y="223" width="1" height="39" fill="#00ff7f"/>
<rect x="854" y="239" width="5" height="19" fill="#00ff7f"/>
<rect x="864" y="256" width="1" height="59" fill="#00ff7f"/>
<rect x="862" y="257" width="5" height="51" fill="#00ff7f"/>
<rect x="872" y="298" width="1" height="14" fill="#00ff7f"/>
<rect x="870" y="303" width="5" height="4" fill="#00ff7f"/>
<rect x="880" y="293" width="1" height="21" fill="#ff0000"/>
<rect x="878" y="295" width="5" height="12" fill="#ff0000"/>
<rect x="888" y="289" width="1" height="22" fill="#00ff7f"/>
<rect x="886" y="295" width="5" height="11" fill="#00ff7f"/>
<rect x="896" y="293" width="1" height="26" fill="#00ff7f"/>
<rect x="894" y="305" width="5" height="13" fill="#00ff7f"/>
<rect x="904" y="285" width="1" height="42" fill="#ff0000"/>
<rect x="902" y="311" width="5" height="7" fill="#ff0000"/>
<rect x="912" y="293" width="1" height="60" fill="#ff0000"/>
<rect x="910" y="293" width="5" height="19" fill="#ff0000"/>
<rect x="920" y="291" width="1" height="9" fill="#00ff7f"/>
<rect x="918" y="293" width="5" height="3" fill="#00ff7f"/>
<rect x="928" y="278" width="1" height="20" fill="#ff0000"/>
<rect x="926" y="285" width="5" height="12" fill="#ff0000"/>
<rect x="936" y="282" width="1" height="16" fill="#00ff7f"/>
<rect x="934" y="285" width="5" height="4" fill="#00ff7f"/>
<rect x="944" y="281" width="1" height="27" fill="#00ff7f"/>
<rect x="942" y="287" width="5" height="11" fill="#00ff7f"/>
<rect x="952" y="266" width="1" height="36" fill="#ff0000"/>
<rect x="950" y="273" width="5" height="25" fill="#ff0000"/>
<rect x="960" y="268" width="1" height="29" fill="#00ff7f"/>
<rect x="958" y="273" width="5" height="10" fill="#00ff7f"/>
<rect x="968" y="274" width="1" height="10" fill="#ff0000"/>
<rect x="966" y="278" width="5" height="5" fill="#ff0000"/>
<rect x="976" y="274" width="1" height="9" fill="#00ff7f"/>
<rect x="974" y="278" width="5" height="4" fill="#00ff7f"/>
<rect x="984" y="274" width="1" height="10" fill="#ff0000"/>
<rect x="982" y="277" width="5" height="5" fill="#ff0000"/>
<rect x="992" y="269" width="1" height="11" fill="#ff0000"/>
<rect x="990" y="273" width="5" height="5" fill="#ff0000"/>
<rect x="1000" y="271" width="1" height="29" fill="#00ff7f"/>
<rect x="998" y="273" width="5" height="17" fill="#00ff7f"/>
<rect x="1008" y="200" width="1" height="97" fill="#ff0000"/>
<rect x="1006" y="204" width="5" height="87" fill="#ff0000"/>
<rect x="1016" y="204" width="1" height="8" fill="#00ff7f"/>
<rect x="1014" y="204" width="5" height="7" fill="#00ff7f"/>
<rect x="1024" y="204" width="1" height="7" fill="#ff0000"/>
<rect x="1022" y="207" width="5" height="3" fill="#ff0000"/>
<rect x="1032" y="203" width="1" height="19" fill="#00ff7f"/>
<rect x="1030" y="207" width="5" height="10" fill="#00ff7f"/>
<rect x="1040" y="215" width="1" height="12" fill="#00ff7f"/>
<rect x="1038" y="217" width="5" height="6" fill="#00ff7f"/>
<rect x="1048" y="218" width="1" height="91" fill="#00ff7f"/>
<rect x="1046" y="222" width="5" height="87" fill="#00ff7f"/>
<rect x="1056" y="283" width="1" height="44" fill="#ff0000"/>
<rect x="1054" y="296" width="5" height="13" fill="#ff0000"/>
<rect x="1064" y="290" width="1" height="13" fill="#ff0000"/>
<rect x="1062" y="296" width="5" height="3" fill="#ff0000"/>
<rect x="1072" y="295" width="1" height="16" fill="#00ff7f"/>
<rect x="1070" y="296" width="5" height="2" fill="#00ff7f"/>
<rect x="1080" y="296" width="1" height="22" fill="#00ff7f"/>
<rect x="1078" y="297" width="5" height="11" fill="#00ff7f"/>
<rect x="1088" y="298" width="1" height="20" fill="#00ff7f"/>
<rect x="1086" y="306" width="5" height="6" fill="#00ff7f"/>
<rect x="1096" y="293" width="1" height="56" fill="#00ff7f"/>
<rect x="1094" y="311" width="5" height="13" fill="#00ff7f"/>
<rect x="1104" y="296" width="1" height="43" fill="#ff0000"/>
<rect x="1102" y="313" width="5" height="11" fill="#ff0000"/>
<rect x="1112" y="328" width="1" height="13" fill="#00ff7f"/>
<rect x="1110" y="329" width="5" height="10" fill="#00ff7f"/>
<rect x="1120" y="336" width="1" height="16" fill="#ff0000"/>
<rect x="1118" y="337" width="5" height="1" fill="#ff0000"/>
<rect x="1128" y="329" width="1" height="16" fill="#00ff7f"/>
<rect x="1126" y="337" width="5" height="8" fill="#00ff7f"/>
<rect x="1136" y="342" width="1" height="26" fill="#00ff7f"/>
<rect x="1134" y="343" width="5" height="14" fill="#00ff7f"/>
<rect x="1144" y="344" width="1" height="45" fill="#00ff7f"/>
<rect x="1142" y="356" width="5" height="17" fill="#00ff7f"/>
<rect x="1152" y="359" width="1" height="47" fill="#00ff7f"/>
<rect x="1150" y="372" width="5" height="23" fill="#00ff7f"/>
<rect x="1160" y="386" width="1" height="10" fill="#ff0000"/>
<rect x="1158" y="387" width="5" height="9" fill="#ff0000"/>
<rect x="1168" y="386" width="1" height="8" fill="#00ff7f"/>
<rect x="1166" y="388" width="5" height="3" fill="#00ff7f"/>
</g>
<polyline points="7,157.8 131.6,150.0 140,149.0 155.8,148.0 172.1,147.0 188,146.0 203.8,145.0 212.2,144.0 228,143.0 235.9,142.0 244.3,141.0 259.7,140.0 276,139.0 291.5,138.0 324,137.0 339.5,136.0 364,135.0 390,134.5 405.2,134.0 427.9,133.0 476.5,132.0 507.7,131.0 532.3,130.0 546.6,129.0 555.6,128.0 604,127.0 616,126.5 628,126.0 652,125.5 676,125.0 690,124.6 712,124.6 725,125.0 745,125.5 765,126.0 830,126.5 900,127.0 925,128 949,129.3 965.4,130.1 980.5,131.3 1013,133.1 1043,133.3 1068.4,137.1 1101,140.9 1131,145.7 1167.7,152.2" fill="none" stroke="#ffa500" stroke-width="1" shape-rendering="crispEdges"/>
<polyline points="7,51.7 12,51 16,50.5 24,49.5 36,48.5 52,47.5 76,46.5 93,46.9 104.5,47.5 117,48.5 137,49.5 165,50.5 185,51.5 193,52.5 201,53.5 208,54.5 214,55.5 219,56.5 223.5,57.5 228,58.5 231.5,59.5 234.5,60.5 238,61.5 241.5,62.5 245,63.5 248.5,64.5 250,65.2 263,68.4 276,72.3 288.9,76.2 301.9,80.1 314.9,83.3 327.8,86.6 340.8,88.3 353.8,90.1 366.7,92 379.7,94.4 392.7,97.6 410,101.8 425.9,105.6 451.9,111.8 470,116.6 485.6,118.5 501.2,119.6 572,119.6 579.8,120.5 588.9,122.7 601.9,124.6 611,125.6 621.3,129.6 634.3,133.1 647.3,137 660.2,140.9 673.2,144.1 686.2,146 700,148.4 713,153 725.9,156.9 738.9,160.8 751.9,164.6 764.9,169.2 777.8,173.5 790.8,177.6 803.8,180.9 816.7,183.5 829.7,185.4 842.7,187.3 860,190.6 950,226.5 960,230.5 1004.3,248.7 1047.2,256.1 1076.4,261.3 1112,269.4 1145.9,278.9 1167.7,285.7" fill="none" stroke="#ff00ff" stroke-width="1" shape-rendering="crispEdges"/>
<polyline points="7,41.2 19.4,41.8 32.4,43.8 43.8,47.3 55,51.5 66.5,51.9 87.5,58.3 136,69.5 190,83.3 200,86.2 250,100.2 253.9,101.5 261.7,103.5 273.3,103.5 279.8,106 288.9,108.6 299.3,109.3 304.5,111.2 312.3,114.5 320,117.7 325.2,118.4 333,120.3 340.8,122.3 348.6,123.8 357.7,125.2 366.7,126.8 379.7,130 391.4,133.3 396.6,133.7 405.6,135.2 410,135.3 413,136.4 428.5,137.3 437.6,138.2 461,139 467.4,139.5 470.7,138 477.8,136.7 484.3,135.4 507.7,134.7 516.7,133.5 529.7,132.2 542.7,128.9 550,127.9 560,122.4 572,118.5 604.5,118.5 609.7,119.5 617.4,122.3 623.9,125.3 630.4,128.5 640.8,135 652.5,144.7 665.4,156 679.7,163.6 692.7,171.3 700,178.3 707.8,184.1 716.9,193.8 723.3,201 727.2,206.8 737.6,215.2 745.4,221.7 757.1,229.5 763.3,234.7 773.7,241.9 783.5,246.4 795.8,246.4 798.4,247.7 807.4,248.6 813.9,247.3 823,246.4 830.8,244.5 836,244.2 843.8,245.5 854.1,248.3 872.3,258.5 893,261.3 902.8,263.8 911.9,265.6 924.9,268 937.8,269 950.8,271.6 963.8,274.2 976.7,276.4 989.7,279.6 997.5,284.2 1002.7,284.8 1007.9,282.9 1020,281.6 1024.6,280 1039.7,271.4 1050.5,272.3 1061.8,270.3 1084.3,270.4 1095.9,273 1110.2,275.7 1129.7,282.2 1144.2,289.8 1154,297.6 1167.7,305.7" fill="none" stroke="#ff0000" stroke-width="1" shape-rendering="crispEdges"/>
<g shape-rendering="crispEdges">
<rect x="7" y="4" width="1184" height="1" fill="#000"/>
<rect x="7" y="415" width="1184" height="1" fill="#000"/>
<rect x="7" y="4" width="1" height="412" fill="#000"/>
<rect x="1190" y="4" width="1" height="412" fill="#000"/>
<rect x="7" y="417" width="1184" height="1" fill="#000"/>
<rect x="7" y="545" width="1184" height="1" fill="#000"/>
<rect x="7" y="417" width="1" height="129" fill="#000"/>
<rect x="1190" y="417" width="1" height="129" fill="#000"/>
<rect x="7" y="547" width="1184" height="1" fill="#000"/>
<rect x="7" y="669" width="1184" height="1" fill="#000"/>
<rect x="7" y="547" width="1" height="123" fill="#000"/>
<rect x="1190" y="547" width="1" height="123" fill="#000"/>
<rect x="1191" y="16" width="2" height="1" fill="#000"/>
<rect x="1191" y="49" width="2" height="1" fill="#000"/>
<rect x="1191" y="82" width="2" height="1" fill="#000"/>
<rect x="1191" y="115" width="2" height="1" fill="#000"/>
<rect x="1191" y="148" width="2" height="1" fill="#000"/>
<rect x="1191" y="181" width="2" height="1" fill="#000"/>
<rect x="1191" y="214" width="2" height="1" fill="#000"/>
<rect x="1191" y="247" width="2" height="1" fill="#000"/>
<rect x="1191" y="280" width="2" height="1" fill="#000"/>
<rect x="1191" y="313" width="2" height="1" fill="#000"/>
<rect x="1191" y="346" width="2" height="1" fill="#000"/>
<rect x="1191" y="379" width="2" height="1" fill="#000"/>
<rect x="1191" y="412" width="2" height="1" fill="#000"/>
<rect x="1191" y="453" width="1" height="1" fill="#000"/>
<rect x="1191" y="418" width="1" height="1" fill="#000"/>
<rect x="1191" y="544" width="1" height="1" fill="#000"/>
<rect x="1191" y="548" width="1" height="1" fill="#000"/>
<rect x="1191" y="668" width="1" height="1" fill="#000"/>
<rect x="8" y="127" width="1183" height="2" fill="#ff0000"/>
<rect x="8" y="201" width="1183" height="2" fill="#ff0000"/>
<rect x="8" y="262" width="1183" height="2" fill="#ff0000"/>
<rect x="8" y="349" width="1183" height="2" fill="#00cc00"/>
<rect x="8" y="670" width="1" height="3" fill="#000"/>
<rect x="72" y="670" width="1" height="3" fill="#000"/>
<rect x="136" y="670" width="1" height="3" fill="#000"/>
<rect x="200" y="670" width="1" height="3" fill="#000"/>
<rect x="264" y="670" width="1" height="3" fill="#000"/>
<rect x="328" y="670" width="1" height="3" fill="#000"/>
<rect x="392" y="670" width="1" height="3" fill="#000"/>
<rect x="456" y="670" width="1" height="3" fill="#000"/>
<rect x="520" y="670" width="1" height="3" fill="#000"/>
<rect x="584" y="670" width="1" height="3" fill="#000"/>
<rect x="648" y="670" width="1" height="3" fill="#000"/>
<rect x="712" y="670" width="1" height="3" fill="#000"/>
<rect x="776" y="670" width="1" height="3" fill="#000"/>
<rect x="840" y="670" width="1" height="3" fill="#000"/>
<rect x="904" y="670" width="1" height="3" fill="#000"/>
<rect x="968" y="670" width="1" height="3" fill="#000"/>
<rect x="1032" y="670" width="1" height="3" fill="#000"/>
<rect x="1096" y="670" width="1" height="3" fill="#000"/>
<rect x="1160" y="670" width="1" height="3" fill="#000"/>
<polygon points="11,11.3 18,11.3 14.5,15" fill="#000" shape-rendering="geometricPrecision"/>
<text x="1196" y="350" font-size="10" text-rendering="geometricPrecision" textLength="37.5" lengthAdjust="spacingAndGlyphs" fill="#000" stroke="#000" stroke-width="0.25" shape-rendering="auto">4065.925</text>
<rect x="1193" y="122" width="41" height="11" fill="#ff0000"/>
<rect x="1193" y="196" width="41" height="11" fill="#ff0000"/>
<rect x="1193" y="257" width="41" height="11" fill="#ff0000"/>
<rect x="1193" y="344" width="41" height="11" fill="#00cc00"/>
<rect x="1193" y="385" width="41" height="11" fill="#000"/>
</g>
<defs><filter id="gs" x="0" y="0" width="100%" height="100%" filterUnits="userSpaceOnUse" primitiveUnits="userSpaceOnUse" color-interpolation-filters="sRGB"><feOffset dx="0" dy="0"/></filter></defs>
<g filter="url(#gs)" stroke-width="0.25" text-rendering="geometricPrecision">
<text x="1196" y="20" font-size="10" textLength="37.5" lengthAdjust="spacingAndGlyphs" fill="#000" stroke="#000">4602.105</text>
<text x="1196" y="53" font-size="10" textLength="37.5" lengthAdjust="spacingAndGlyphs" fill="#000" stroke="#000">4548.810</text>
<text x="1196" y="86" font-size="10" textLength="37.5" lengthAdjust="spacingAndGlyphs" fill="#000" stroke="#000">4493.900</text>
<text x="1196" y="119" font-size="10" textLength="37.5" lengthAdjust="spacingAndGlyphs" fill="#000" stroke="#000">4440.605</text>
<text x="1196" y="152" font-size="10" textLength="37.5" lengthAdjust="spacingAndGlyphs" fill="#000" stroke="#000">4387.310</text>
<text x="1196" y="185" font-size="10" textLength="37.5" lengthAdjust="spacingAndGlyphs" fill="#000" stroke="#000">4334.015</text>
<text x="1196" y="218" font-size="10" textLength="37.5" lengthAdjust="spacingAndGlyphs" fill="#000" stroke="#000">4280.720</text>
<text x="1196" y="251" font-size="10" textLength="37.5" lengthAdjust="spacingAndGlyphs" fill="#000" stroke="#000">4225.810</text>
<text x="1196" y="284" font-size="10" textLength="37.5" lengthAdjust="spacingAndGlyphs" fill="#000" stroke="#000">4172.515</text>
<text x="1196" y="317" font-size="10" textLength="37.5" lengthAdjust="spacingAndGlyphs" fill="#000" stroke="#000">4119.220</text>
<text x="1196" y="383" font-size="10" textLength="37.5" lengthAdjust="spacingAndGlyphs" fill="#000" stroke="#000">4012.630</text>
<text x="1196" y="416" font-size="10" textLength="37.5" lengthAdjust="spacingAndGlyphs" fill="#000" stroke="#000">3959.335</text>
<text x="1196" y="131" font-size="10" textLength="37.5" lengthAdjust="spacingAndGlyphs" fill="#fff" stroke="#fff">4420.000</text>
<text x="1196" y="205" font-size="10" textLength="37.5" lengthAdjust="spacingAndGlyphs" fill="#fff" stroke="#fff">4300.000</text>
<text x="1196" y="266" font-size="10" textLength="37.5" lengthAdjust="spacingAndGlyphs" fill="#fff" stroke="#fff">4200.000</text>
<text x="1196" y="353" font-size="10" textLength="37.5" lengthAdjust="spacingAndGlyphs" fill="#fff" stroke="#fff">4060.000</text>
<text x="1196" y="394" font-size="10" textLength="37.5" lengthAdjust="spacingAndGlyphs" fill="#fff" stroke="#fff">3994.550</text>
<text x="1193.8" y="428" font-size="10" textLength="32.4" lengthAdjust="spacingAndGlyphs" fill="#000" stroke="#000">21.5973</text>
<text x="1193.8" y="457" font-size="10" textLength="17.2" lengthAdjust="spacingAndGlyphs" fill="#000" stroke="#000">0.00</text>
<text x="1193.8" y="542" font-size="10" textLength="36.2" lengthAdjust="spacingAndGlyphs" fill="#000" stroke="#000">-58.3794</text>
<text x="1194.6" y="558" font-size="10" textLength="13.6" lengthAdjust="spacingAndGlyphs" fill="#000" stroke="#000">100</text>
<text x="1193" y="588" font-size="10" textLength="9" lengthAdjust="spacingAndGlyphs" fill="#000" stroke="#000">70</text>
<text x="1193" y="636" font-size="10" textLength="9" lengthAdjust="spacingAndGlyphs" fill="#000" stroke="#000">30</text>
<text x="1194" y="666" font-size="10" textLength="5" lengthAdjust="spacingAndGlyphs" fill="#000" stroke="#000">0</text>
<text x="23" y="16" font-size="10" textLength="211.5" lengthAdjust="spacingAndGlyphs" fill="#000" stroke="#000">SP500-,H4&#160; 3997.450 4001.550 3990.750 3994.550</text>
<text x="11.7" y="430" font-size="10" textLength="143.6" lengthAdjust="spacingAndGlyphs" fill="#000" stroke="#000">MACD(12,26,9) -50.8645 -36.0641</text>
<text x="11.7" y="560" font-size="10" textLength="67.7" lengthAdjust="spacingAndGlyphs" fill="#000" stroke="#000">RSI(14) 28.4950</text>
<text x="7" y="682" font-size="10" textLength="45.5" lengthAdjust="spacingAndGlyphs" fill="#000" stroke="#000">5 Apr 2022</text>
<text x="71" y="682" font-size="10" textLength="48" lengthAdjust="spacingAndGlyphs" fill="#000" stroke="#000">6 Apr 08:00</text>
<text x="135" y="682" font-size="10" textLength="48" lengthAdjust="spacingAndGlyphs" fill="#000" stroke="#000">7 Apr 16:00</text>
<text x="199" y="682" font-size="10" textLength="53.5" lengthAdjust="spacingAndGlyphs" fill="#000" stroke="#000">11 Apr 00:00</text>
<text x="263" y="682" font-size="10" textLength="53.5" lengthAdjust="spacingAndGlyphs" fill="#000" stroke="#000">12 Apr 08:00</text>
<text x="327" y="682" font-size="10" textLength="53.5" lengthAdjust="spacingAndGlyphs" fill="#000" stroke="#000">13 Apr 16:00</text>
<text x="391" y="682" font-size="10" textLength="53.5" lengthAdjust="spacingAndGlyphs" fill="#000" stroke="#000">17 Apr 23:00</text>
<text x="455" y="682" font-size="10" textLength="53.5" lengthAdjust="spacingAndGlyphs" fill="#000" stroke="#000">19 Apr 04:00</text>
<text x="519" y="682" font-size="10" textLength="53.5" lengthAdjust="spacingAndGlyphs" fill="#000" stroke="#000">20 Apr 12:00</text>
<text x="583" y="682" font-size="10" textLength="53.5" lengthAdjust="spacingAndGlyphs" fill="#000" stroke="#000">21 Apr 20:00</text>
<text x="647" y="682" font-size="10" textLength="53.5" lengthAdjust="spacingAndGlyphs" fill="#000" stroke="#000">25 Apr 04:00</text>
<text x="711" y="682" font-size="10" textLength="53.5" lengthAdjust="spacingAndGlyphs" fill="#000" stroke="#000">26 Apr 12:00</text>
<text x="775" y="682" font-size="10" textLength="53.5" lengthAdjust="spacingAndGlyphs" fill="#000" stroke="#000">27 Apr 20:00</text>
<text x="839" y="682" font-size="10" textLength="53.5" lengthAdjust="spacingAndGlyphs" fill="#000" stroke="#000">29 Apr 04:00</text>
<text x="903" y="682" font-size="10" textLength="52.5" lengthAdjust="spacingAndGlyphs" fill="#000" stroke="#000">2 May 12:00</text>
<text x="967" y="682" font-size="10" textLength="52.5" lengthAdjust="spacingAndGlyphs" fill="#000" stroke="#000">3 May 20:00</text>
<text x="1031" y="682" font-size="10" textLength="52.5" lengthAdjust="spacingAndGlyphs" fill="#000" stroke="#000">5 May 04:00</text>
<text x="1095" y="682" font-size="10" textLength="52.5" lengthAdjust="spacingAndGlyphs" fill="#000" stroke="#000">6 May 12:00</text>
<text x="1159" y="682" font-size="10" textLength="52.5" lengthAdjust="spacingAndGlyphs" fill="#000" stroke="#000">9 May 20:00</text>
</g>
<g fill="#ff0000">
<text x="262.1" y="318.6" font-size="34.7" textLength="172.5" lengthAdjust="spacingAndGlyphs" style="font-family:'Liberation Sans','Noto Sans CJK SC',sans-serif">多空转折点</text>
<text x="436" y="318.4" font-size="36" textLength="83.6" lengthAdjust="spacingAndGlyphs" style="font-family:'Liberation Sans','Noto Sans CJK SC',sans-serif">4060</text>
</g>
</svg></body></html>
